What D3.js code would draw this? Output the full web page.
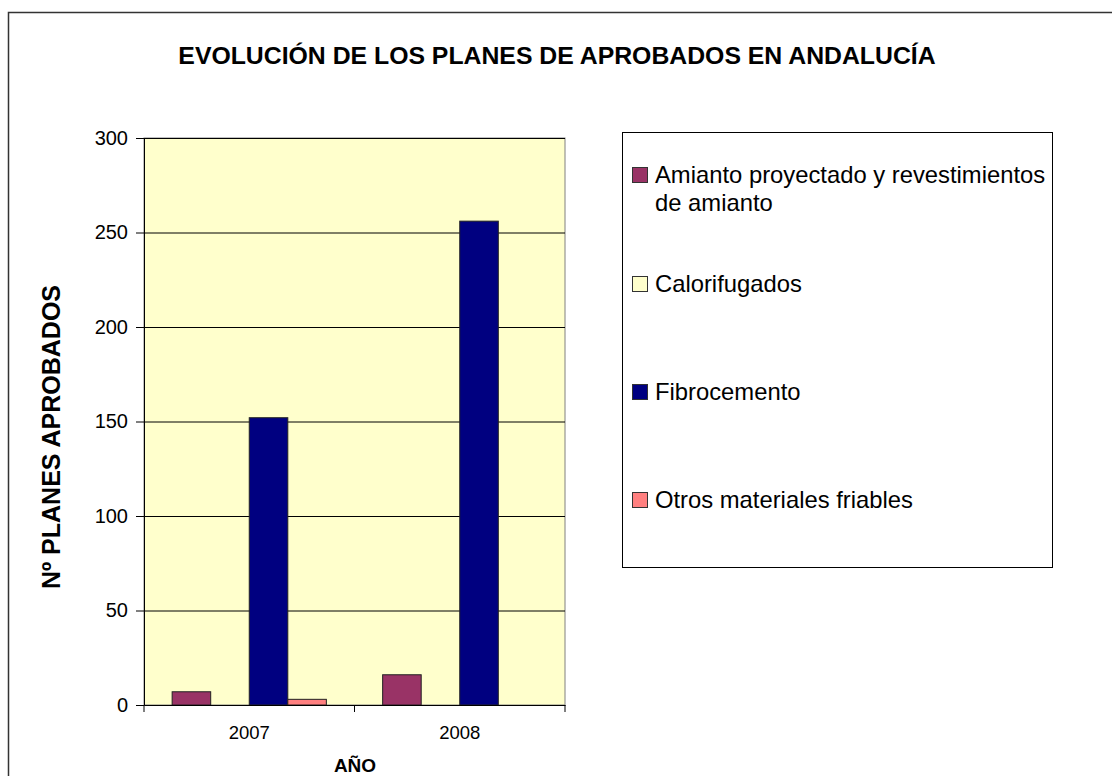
<!DOCTYPE html>
<head>
<style>
body { margin: 0; background: #fff; }
text { font-family: "Liberation Sans", Arial, sans-serif; }
</style>
</head>
<body>
<svg width="1112" height="776"></svg>
<script src="https://d3js.org/d3.v7.min.js"></script>
<script>

var years = ["2007", "2008"];
var seriesNames = ["Amianto proyectado y revestimientos de amianto", "Calorifugados", "Fibrocemento", "Otros materiales friables"];
var seriesColors = ["#993366", "#FFFFCC", "#000080", "#FF8080"];
var amianto = [7, 16];
var calorifugados = [0, 0];
var fibrocemento = [152, 256];
var otros = [3, 0];
var yTicks = [0, 50, 100, 150, 200, 250, 300];

var values = [amianto, calorifugados, fibrocemento, otros];

var svg = d3.select("svg");

// outer chart frame (runs past the right and bottom edges)
svg.append("rect")
    .attr("x", 8.5).attr("y", 12.5)
    .attr("width", 1120).attr("height", 800)
    .attr("fill", "none").attr("stroke", "#333").attr("stroke-width", 1.5);

var plot = {left: 144, top: 138, right: 565, bottom: 705};

var x0 = d3.scaleBand()
    .domain(years)
    .range([plot.left, plot.right]);

var x1 = d3.scaleBand()
    .domain(d3.range(seriesNames.length))
    .range([0, x0.bandwidth()])
    .paddingOuter(0.73);

var y = d3.scaleLinear()
    .domain([0, 300])
    .range([plot.bottom, plot.top]);

svg.append("rect")
    .attr("x", plot.left).attr("y", plot.top)
    .attr("width", plot.right - plot.left).attr("height", plot.bottom - plot.top)
    .attr("fill", "#FFFFCC").attr("stroke", "#808080");

// grid lines
svg.append("g")
  .selectAll("line")
  .data(yTicks.slice(1))
  .enter().append("line")
    .attr("x1", plot.left).attr("x2", plot.right)
    .attr("y1", function(d) { return y(d) + 0.5; })
    .attr("y2", function(d) { return y(d) + 0.5; })
    .attr("stroke", "#000").attr("stroke-width", 1);

// bars
var groups = svg.append("g")
  .selectAll("g")
  .data(years)
  .enter().append("g")
    .attr("transform", function(d) { return "translate(" + x0(d) + ",0)"; });

groups.selectAll("rect")
  .data(function(d, i) { return values.map(function(v, s) { return {s: s, v: v[i]}; }); })
  .enter().append("rect")
    .filter(function(d) { return d.v > 0; })
    .attr("x", function(d) { return x1(d.s); })
    .attr("width", x1.bandwidth())
    .attr("y", function(d) { return y(d.v); })
    .attr("height", function(d) { return y(0) - y(d.v); })
    .attr("fill", function(d) { return seriesColors[d.s]; })
    .attr("stroke", "#222").attr("stroke-width", 1);

// axes
var yAxis = svg.append("g")
    .attr("transform", "translate(" + plot.left + ",0)")
    .call(d3.axisLeft(y).tickValues(yTicks).tickSize(8).tickPadding(8));
yAxis.selectAll("text").attr("font-size", 20).attr("fill", "#000");
yAxis.selectAll("line, path").attr("stroke", "#000");

var xAxis = svg.append("g")
    .attr("transform", "translate(0," + plot.bottom + ")")
    .call(d3.axisBottom(x0).tickSize(0).tickPadding(21));
xAxis.selectAll("text").attr("font-size", 18.5).attr("fill", "#000");
xAxis.select(".domain").attr("stroke", "#000");
xAxis.selectAll(".sep")
  .data([plot.left, plot.left + x0.bandwidth(), plot.right])
  .enter().append("line")
    .attr("x1", function(d) { return d; }).attr("x2", function(d) { return d; })
    .attr("y1", 0).attr("y2", 7)
    .attr("stroke", "#000");

// titles
svg.append("text")
    .attr("x", 557).attr("y", 64)
    .attr("text-anchor", "middle")
    .attr("font-size", 24.8).attr("font-weight", "bold")
    .text("EVOLUCIÓN DE LOS PLANES DE APROBADOS EN ANDALUCÍA");

svg.append("text")
    .attr("x", 355).attr("y", 772)
    .attr("text-anchor", "middle")
    .attr("font-size", 19).attr("font-weight", "bold")
    .text("AÑO");

svg.append("text")
    .attr("transform", "translate(60,437) rotate(-90)")
    .attr("text-anchor", "middle")
    .attr("font-size", 25).attr("font-weight", "bold")
    .text("Nº PLANES APROBADOS");

// legend
var legend = svg.append("g");
legend.append("rect")
    .attr("x", 622.5).attr("y", 132.5)
    .attr("width", 430).attr("height", 435)
    .attr("fill", "#fff").attr("stroke", "#000");

var legendLines = [["Amianto proyectado y revestimientos", "de amianto"], ["Calorifugados"], ["Fibrocemento"], ["Otros materiales friables"]];
var legendY = [175, 284, 392, 500];

var item = legend.selectAll(".item")
  .data(legendLines)
  .enter().append("g")
    .attr("transform", function(d, i) { return "translate(0," + legendY[i] + ")"; });

item.append("rect")
    .attr("x", 632.5).attr("y", -7.5)
    .attr("width", 15).attr("height", 15)
    .attr("fill", function(d, i) { return seriesColors[i]; })
    .attr("stroke", "#333");

item.append("text")
    .attr("x", 655).attr("y", 8)
    .attr("font-size", 23.8)
    .selectAll("tspan")
    .data(function(d) { return d; })
    .enter().append("tspan")
      .attr("x", 655)
      .attr("dy", function(d, i) { return i ? 28 : 0; })
      .text(function(d) { return d; });

</script>
</body>
